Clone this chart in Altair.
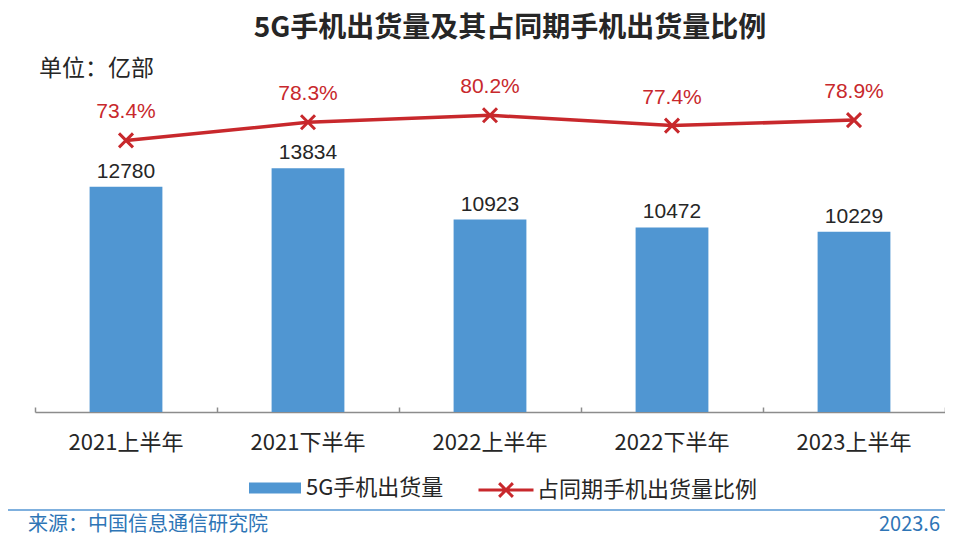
import altair as alt
import pandas as pd

periods = ["2021上半年", "2021下半年", "2022上半年", "2022下半年", "2023上半年"]
shipments = [12780, 13834, 10923, 10472, 10229]
ratios = [73.4, 78.3, 80.2, 77.4, 78.9]
bar_name = "5G手机出货量"
line_name = "占同期手机出货量比例"
title_text = "5G手机出货量及其占同期手机出货量比例"
unit_text = "单位：亿部"
source_text = "来源：中国信息通信研究院"
date_text = "2023.6"

BLUE = "#5096D2"
RED = "#C8282C"
GRAY = "#8C8C8C"
TXT = "#262626"
FOOT = "#2E75B6"
NUM_FONT = "Liberation Sans, Arial, Noto Sans CJK SC"
CJK_FONT = "Noto Sans CJK SC, Noto Sans, sans-serif"

df = pd.DataFrame({
    "period": periods,
    "shipments": shipments,
    "ratio": [r / 100 for r in ratios],
    "ratio_label": [f"{r:.1f}%" for r in ratios],
    "bar_series": [bar_name] * len(periods),
    "line_series": [line_name] * len(periods),
})

W, H = 910, 370

x_bottom = alt.X("period:N", sort=periods,
                 scale=alt.Scale(paddingInner=0.6, paddingOuter=0.3), title=None,
                 axis=alt.Axis(orient="bottom", labelAngle=0, ticks=False,
                               domainColor=GRAY, domainWidth=1.5,
                               labelFont=CJK_FONT, labelFontSize=22,
                               labelColor=TXT, labelPadding=20, grid=False))
x_top = alt.X("period:N", sort=periods,
              scale=alt.Scale(paddingInner=0, paddingOuter=0), title=None,
              axis=alt.Axis(orient="top", offset=-H, labels=False, domain=False,
                            ticks=True, tickBand="extent", tickSize=5,
                            tickColor=GRAY, tickWidth=1.5, grid=False, zindex=1))

base = alt.Chart(df)

y_bar = alt.Y("shipments:Q", scale=alt.Scale(domain=[0, 21000]), axis=None)
bars = base.mark_bar().encode(
    x=x_bottom, y=y_bar,
    color=alt.Color("bar_series:N",
                    scale=alt.Scale(domain=[bar_name], range=[BLUE]),
                    legend=alt.Legend(title=None, orient="none", legendX=214, legendY=420,
                                      padding=0, symbolType="M-1,-0.21H1V0.21H-1Z",
                                      symbolSize=2704, symbolStrokeWidth=0,
                                      labelFont=CJK_FONT, labelFontSize=22,
                                      labelColor=TXT, labelOffset=5, labelLimit=400)),
)
bar_labels = base.mark_text(font=NUM_FONT, fontSize=21, color=TXT,
                            baseline="alphabetic", dy=-9).encode(
    x=x_bottom, y=y_bar, text=alt.Text("shipments:Q", format="d"))
layer_a = alt.layer(bars, bar_labels)

y_line = alt.Y("ratio:Q", scale=alt.Scale(domain=[0, 1]), axis=None)
line = base.mark_line(strokeWidth=3.5).encode(
    x=x_top, y=y_line,
    color=alt.Color("line_series:N",
                    scale=alt.Scale(domain=[line_name], range=[RED]),
                    legend=alt.Legend(title=None, orient="none", legendX=442, legendY=419,
                                      padding=0,
                                      symbolType="M-1,0H1M-0.25,-0.25L0.25,0.25M-0.25,0.25L0.25,-0.25",
                                      symbolSize=3025, symbolStrokeWidth=3,
                                      symbolStrokeColor=RED, symbolFillColor="transparent",
                                      labelFont=CJK_FONT, labelFontSize=22,
                                      labelColor=TXT, labelOffset=2, labelLimit=400)),
)
points = base.mark_point(shape="M-1,-1L1,1M-1,1L1,-1", filled=False, size=196,
                         strokeWidth=3, color=RED, opacity=1).encode(x=x_top, y=y_line)
line_labels = base.mark_text(font=NUM_FONT, fontSize=21, color=RED,
                             baseline="alphabetic", dy=-22).encode(
    x=x_top, y=y_line, text="ratio_label:N")
layer_b = alt.layer(line, points, line_labels)

one = pd.DataFrame({"k": [0]})
title = alt.Chart(one).mark_text(text=title_text, font=CJK_FONT, fontSize=28, fontWeight="bold",
                                 color=TXT, align="center", baseline="middle").encode(
    x=alt.value(475), y=alt.value(-13))
unit = alt.Chart(one).mark_text(text=unit_text, font=CJK_FONT, fontSize=23, color=TXT,
                                align="left", baseline="middle").encode(
    x=alt.value(4), y=alt.value(27))
foot_rule = alt.Chart(one).mark_rule(color="#7FB0DE", strokeWidth=2).encode(
    x=alt.value(-27), x2=alt.value(910), y=alt.value(468))
foot_src = alt.Chart(one).mark_text(text=source_text, font=CJK_FONT, fontSize=20, color=FOOT,
                                    align="left", baseline="middle").encode(
    x=alt.value(-7), y=alt.value(483))
foot_date = alt.Chart(one).mark_text(text=date_text, font=CJK_FONT, fontSize=20, color=FOOT,
                                     align="right", baseline="middle").encode(
    x=alt.value(905), y=alt.value(483))

chart = alt.layer(layer_a, layer_b, title, unit, foot_rule, foot_src, foot_date).resolve_scale(
    x="independent", y="independent", color="independent"
).resolve_axis(x="independent").properties(
    width=W, height=H,
    padding={"left": 27, "top": 34, "right": 0, "bottom": 125},
    autosize=alt.AutoSizeParams(type="none"),
    background="white",
).configure_view(stroke=None)

chart.save("out.html", embed_options={"renderer": "svg", "actions": False})
